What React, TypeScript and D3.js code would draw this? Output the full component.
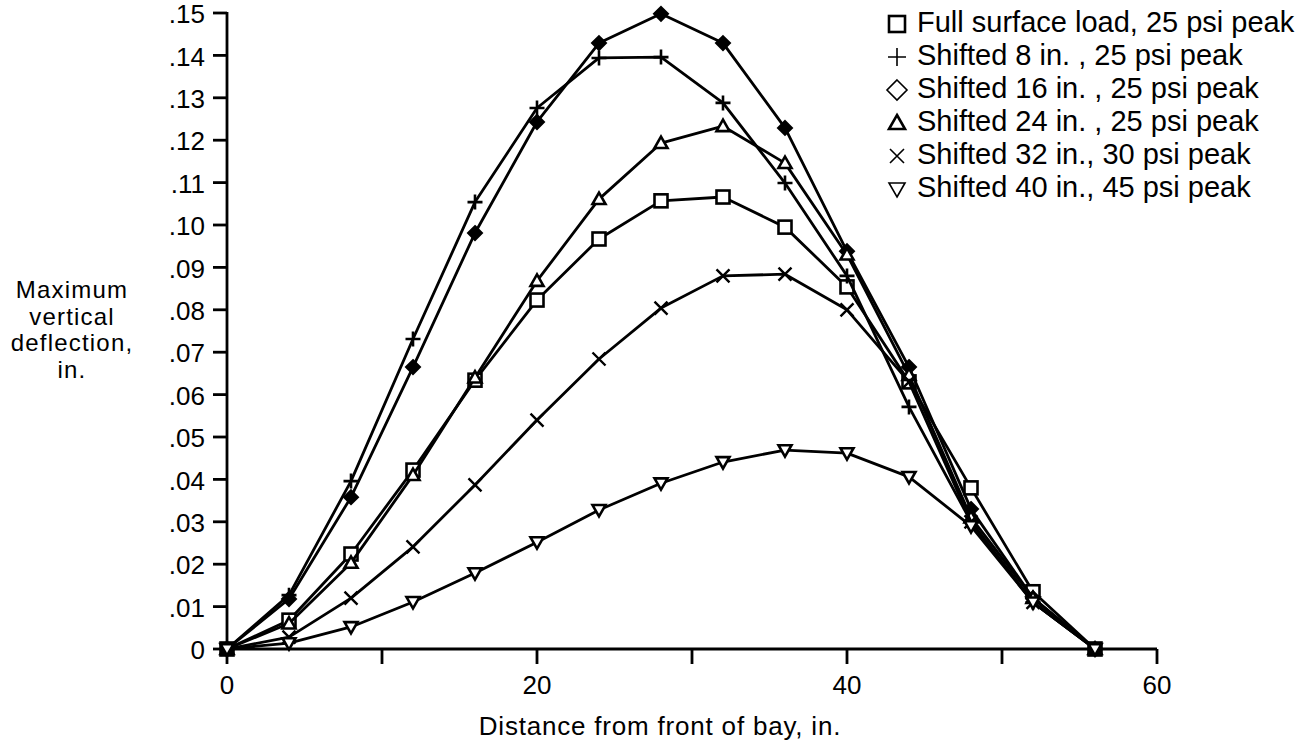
import * as d3 from "d3";

// distance from front of bay, in.
const distances = [0, 4, 8, 12, 16, 20, 24, 28, 32, 36, 40, 44, 48, 52, 56];

const fullSurface = [0, 0.0068, 0.0224, 0.0422, 0.0634, 0.0823, 0.0967, 0.1057, 0.1066, 0.0995, 0.0854, 0.063, 0.038, 0.0135, 0];
const shifted8 = [0, 0.0127, 0.0396, 0.0731, 0.1054, 0.1276, 0.1394, 0.1396, 0.1288, 0.1099, 0.088, 0.0571, 0.03, 0.011, 0];
const shifted16 = [0, 0.0118, 0.0358, 0.0665, 0.0981, 0.1243, 0.1429, 0.1498, 0.1429, 0.1229, 0.0938, 0.0665, 0.033, 0.012, 0];
const shifted24 = [0, 0.006, 0.0203, 0.041, 0.064, 0.0868, 0.1061, 0.1193, 0.1233, 0.1146, 0.093, 0.0646, 0.031, 0.012, 0];
const shifted32 = [0, 0.0028, 0.012, 0.0241, 0.0387, 0.054, 0.0684, 0.0804, 0.088, 0.0884, 0.08, 0.063, 0.03, 0.011, 0];
const shifted40 = [0, 0.0014, 0.0052, 0.0111, 0.0179, 0.0252, 0.0328, 0.0391, 0.0441, 0.0469, 0.0462, 0.0406, 0.029, 0.011, 0];

const seriesNames = [
  "Full surface load, 25 psi peak",
  "Shifted 8 in. , 25 psi peak",
  "Shifted 16 in. , 25 psi peak",
  "Shifted 24 in. , 25 psi peak",
  "Shifted 32 in., 30 psi peak",
  "Shifted 40 in., 45 psi peak",
];
const seriesSymbols = ["square", "plus", "diamond", "triangle", "cross", "nabla"];
const seriesValues = [fullSurface, shifted8, shifted16, shifted24, shifted32, shifted40];

const xTicks = [0, 10, 20, 30, 40, 50, 60];
const xTickLabels = ["0", "", "20", "", "40", "", "60"];
const yTicks = [0, 0.01, 0.02, 0.03, 0.04, 0.05, 0.06, 0.07, 0.08, 0.09, 0.1, 0.11, 0.12, 0.13, 0.14, 0.15];
const yTickLabels = ["0", ".01", ".02", ".03", ".04", ".05", ".06", ".07", ".08", ".09", ".10", ".11", ".12", ".13", ".14", ".15"];

const yTitle = ["Maximum", "vertical", "deflection,", "in."];
const xTitle = "Distance from front of bay, in.";

const FONT = "'Liberation Sans', Arial, Helvetica, sans-serif";

function Marker({ kind, x, y, legend }: { kind: string; x: number; y: number; legend?: boolean }) {
  const common = { stroke: "#000", strokeWidth: 2.6 };
  switch (kind) {
    case "square": {
      const s = legend ? 16 : 13;
      return <rect x={x - s / 2} y={y - s / 2} width={s} height={s} fill="#fff" {...common} />;
    }
    case "plus": {
      const s = legend ? 9 : 7.5;
      return <path d={`M${x - s},${y}H${x + s}M${x},${y - s}V${y + s}`} fill="none" {...common} strokeWidth={legend ? 1.6 : 2.6} />;
    }
    case "diamond": {
      const s = legend ? 10 : 7;
      return (
        <path
          d={`M${x},${y - s}L${x + s},${y}L${x},${y + s}L${x - s},${y}Z`}
          fill={legend ? "#fff" : "#000"}
          {...common}
          strokeWidth={legend ? 1.6 : 2}
        />
      );
    }
    case "triangle": {
      const s = legend ? 8 : 6.5;
      return <path d={`M${x},${y - s}L${x + s},${y + s * 0.75}L${x - s},${y + s * 0.75}Z`} fill="#fff" {...common} />;
    }
    case "cross": {
      const s = legend ? 7 : 6.5;
      return <path d={`M${x - s},${y - s}L${x + s},${y + s}M${x - s},${y + s}L${x + s},${y - s}`} fill="none" {...common} strokeWidth={legend ? 1.6 : 2.4} />;
    }
    default: {
      const s = legend ? 8 : 6.5;
      return <path d={`M${x},${y + s}L${x + s},${y - s * 0.75}L${x - s},${y - s * 0.75}Z`} fill="#fff" {...common} strokeWidth={legend ? 1.6 : 2.6} />;
    }
  }
}

export default function App() {
  const width = 1304;
  const height = 742;

  const x = d3.scaleLinear().domain([0, 60]).range([227, 1157]);
  const y = d3.scaleLinear().domain([0, 0.15]).range([649, 13]);

  const line = d3
    .line<number>()
    .x((_, i) => x(distances[i]))
    .y((d) => y(d));

  const legendX = 897;
  const legendY0 = 22;
  const legendStep = 33;

  return (
    <svg
      width={width}
      height={height}
      style={{ position: "absolute", left: 0, top: 0, background: "#fff" }}
      fontFamily={FONT}
    >
      <rect width={width} height={height} fill="#fff" />

      {/* axes */}
      <g stroke="#000" strokeWidth={2.8} fill="none">
        <line x1={x(0)} x2={x(0)} y1={y(0.15) - 1} y2={y(0)} />
        <line x1={x(0)} x2={x(60)} y1={y(0)} y2={y(0)} />
        {yTicks.map((t) => (
          <line key={"yt" + t} x1={x(0) - 14} x2={x(0)} y1={y(t)} y2={y(t)} />
        ))}
        {xTicks.map((t) => (
          <line key={"xt" + t} x1={x(t)} x2={x(t)} y1={y(0)} y2={y(0) + 15} />
        ))}
      </g>

      <g fontSize={26} fill="#000">
        {yTicks.map((t, i) => (
          <text key={"yl" + t} x={x(0) - 22} y={y(t) + 1} dy="0.35em" textAnchor="end">
            {yTickLabels[i]}
          </text>
        ))}
        {xTicks.map((t, i) => (
          <text key={"xl" + t} x={x(t)} y={y(0) + 45} textAnchor="middle">
            {xTickLabels[i]}
          </text>
        ))}
        <text x={660} y={735} textAnchor="middle" letterSpacing={0.8}>
          {xTitle}
        </text>
      </g>
      <g fontSize={24} fill="#000">
        {yTitle.map((s, i) => (
          <text key={s} x={72} y={298 + i * 26.5} textAnchor="middle" letterSpacing={1.2}>
            {s}
          </text>
        ))}
      </g>

      {/* series */}
      {seriesValues.map((vals, si) => (
        <g key={seriesNames[si]}>
          <path d={line(vals) ?? ""} fill="none" stroke="#000" strokeWidth={2.8} strokeLinejoin="round" />
          {vals.map((v, i) => (
            <Marker key={i} kind={seriesSymbols[si]} x={x(distances[i])} y={y(v)} />
          ))}
        </g>
      ))}

      {/* legend */}
      <g fontSize={29} fill="#000">
        {seriesNames.map((name, i) => (
          <g key={name}>
            <Marker kind={seriesSymbols[i]} x={legendX} y={legendY0 + i * legendStep + 2} legend />
            <text x={legendX + 20} y={legendY0 + i * legendStep} dy="0.35em">
              {name}
            </text>
          </g>
        ))}
      </g>
    </svg>
  );
}
